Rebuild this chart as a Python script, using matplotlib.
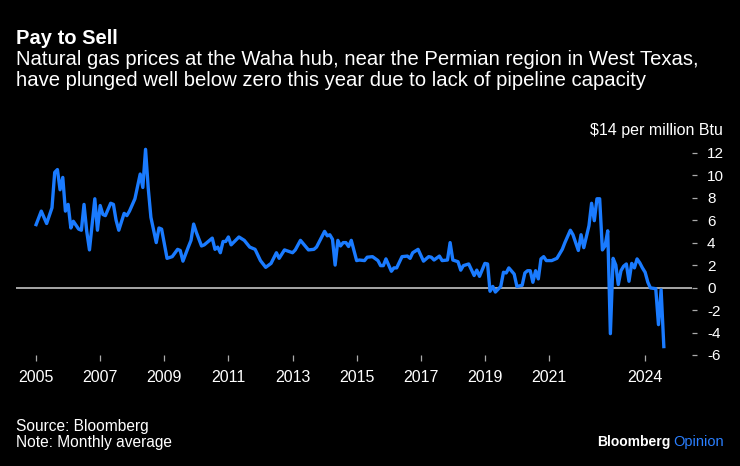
import numpy as np
import pandas as pd
import matplotlib
matplotlib.use('Agg')
import matplotlib.pyplot as plt
import matplotlib.transforms as mtransforms

plt.rcParams['font.family'] = ['Liberation Sans', 'DejaVu Sans']

# Waha hub monthly average price, $/million Btu
months = ['2005-01', '2005-03', '2005-05', '2005-07', '2005-08', '2005-09', '2005-10', '2005-11', '2005-12',
          '2006-01', '2006-02', '2006-03', '2006-05', '2006-06', '2006-07', '2006-08', '2006-09', '2006-11', '2006-12',
          '2007-01', '2007-02', '2007-03', '2007-05', '2007-06', '2007-07', '2007-08', '2007-10', '2007-11', '2007-12',
          '2008-02', '2008-04', '2008-05', '2008-06', '2008-07', '2008-08', '2008-10', '2008-11', '2008-12',
          '2009-02', '2009-04', '2009-06', '2009-07', '2009-08', '2009-10', '2009-11', '2009-12',
          '2010-01', '2010-03', '2010-04', '2010-07', '2010-08', '2010-09', '2010-10', '2010-11', '2010-12',
          '2011-01', '2011-02', '2011-05', '2011-07', '2011-09', '2011-11',
          '2012-01', '2012-03', '2012-05', '2012-07', '2012-08', '2012-10',
          '2013-01', '2013-02', '2013-04', '2013-07', '2013-09', '2013-10',
          '2014-01', '2014-02', '2014-03', '2014-04', '2014-05', '2014-06', '2014-07', '2014-08', '2014-09',
          '2014-10', '2014-11',
          '2015-01', '2015-02', '2015-04', '2015-05', '2015-07', '2015-09', '2015-10', '2015-11', '2015-12',
          '2016-02', '2016-03', '2016-04', '2016-06', '2016-08', '2016-09', '2016-10', '2016-12',
          '2017-02', '2017-04', '2017-05', '2017-06', '2017-08', '2017-09', '2017-11', '2017-12',
          '2018-01', '2018-03', '2018-04', '2018-05', '2018-07', '2018-09', '2018-10', '2018-11',
          '2019-01', '2019-02', '2019-03', '2019-04', '2019-05', '2019-07', '2019-08', '2019-09', '2019-10', '2019-12',
          '2020-01', '2020-03', '2020-04', '2020-05', '2020-06', '2020-07', '2020-08', '2020-09', '2020-10',
          '2020-11', '2020-12',
          '2021-02', '2021-04', '2021-06', '2021-07', '2021-09', '2021-10', '2021-12',
          '2022-01', '2022-02', '2022-04', '2022-05', '2022-06', '2022-07', '2022-08', '2022-09', '2022-10',
          '2022-11', '2022-12',
          '2023-01', '2023-02', '2023-03', '2023-04', '2023-05', '2023-06', '2023-07', '2023-08', '2023-09',
          '2023-10', '2023-11', '2023-12',
          '2024-01', '2024-02', '2024-03', '2024-05', '2024-06', '2024-07', '2024-08']
prices = [5.6, 6.8, 5.7, 7.1, 10.25, 10.5, 8.7, 9.8, 6.8,
          7.4, 5.3, 5.9, 5.2, 5.1, 7.4, 5.0, 3.35, 7.9, 5.1,
          7.3, 6.5, 6.4, 7.5, 7.4, 6.0, 5.1, 6.6, 6.4, 6.8,
          7.9, 10.1, 8.9, 12.3, 8.9, 6.25, 4.0, 5.3, 5.2,
          2.6, 2.75, 3.4, 3.3, 2.35, 3.6, 4.2, 5.65,
          4.9, 3.7, 3.8, 4.4, 3.4, 3.6, 3.1, 4.1, 4.1,
          4.5, 3.8, 4.5, 4.2, 3.6, 3.4,
          2.4, 1.8, 2.15, 3.1, 2.6, 3.35,
          3.1, 3.35, 4.2, 3.35, 3.4, 3.6,
          5.0, 4.6, 4.7, 4.3, 2.0, 4.2, 3.7, 4.0, 4.0,
          3.65, 4.2,
          2.4, 2.45, 2.4, 2.7, 2.75, 2.4, 1.95, 1.95, 2.55,
          1.45, 1.75, 1.75, 2.75, 2.8, 2.6, 3.1, 3.4,
          2.35, 2.75, 2.7, 2.45, 2.8, 2.4, 2.45, 4.0,
          2.45, 2.3, 1.55, 1.95, 2.1, 1.07, 1.55, 1.0,
          2.15, 2.1, -0.33, 0.1, -0.4, 0.1, 1.36, 1.3, 1.75, 1.2,
          0.1, 0.2, 1.3, 1.5, 1.5, 0.47, 1.5, 0.77, 2.55,
          2.75, 2.4,
          2.4, 2.6, 3.4, 4.0, 5.1, 4.7, 3.3,
          4.7, 3.55, 5.5, 7.5, 5.95, 7.9, 7.9, 3.35, 3.7,
          5.05, -4.1,
          2.6, 2.0, 0.27, 1.5, 1.9, 2.1, 0.56, 2.15, 1.75,
          2.55, 2.2, 1.75,
          1.36, 0.47, -0.03, -0.1, -3.3, -0.2, -5.25]

year_ticks = [2005, 2007, 2009, 2011, 2013, 2015, 2017, 2019, 2021, 2024]
y_ticks = [-6, -4, -2, 0, 2, 4, 6, 8, 10, 12]

W, H = 740, 466
fig = plt.figure(figsize=(W / 100, H / 100), dpi=100, facecolor='black')
ax = fig.add_axes([16 / W, 1 - 355 / H, (692 - 16) / W, (355 - 130.2) / H])
ax.set_facecolor('black')

dates = pd.to_datetime(months)
ax.axhline(0, color='#b4b4b4', lw=1.3, zorder=1)
ax.plot(dates, prices, color='#1a7bff', lw=2.4, solid_joinstyle='round', zorder=2)

ax.set_xlim(pd.Timestamp('2004-05-17'), pd.Timestamp('2025-06-18'))
ax.set_ylim(-6, 14)

ax.set_xticks(pd.to_datetime([f'{y}-01-01' for y in year_ticks]))
ax.set_xticklabels([str(y) for y in year_ticks])
ax.yaxis.tick_right()
ax.set_yticks(y_ticks)
ax.set_yticklabels([str(v) for v in y_ticks])

for s in ax.spines.values():
    s.set_visible(False)
ax.tick_params(axis='x', direction='out', length=4.3, width=0.9, color='#aaaaaa',
               labelcolor='white', labelsize=11.5, pad=6.5)
ax.tick_params(axis='y', direction='out', length=3.6, width=0.9, color='#aaaaaa',
               labelcolor='white', labelsize=11, pad=7.2)

# unit label sits at the 14 level, right aligned with the tick labels
trans = mtransforms.blended_transform_factory(fig.transFigure, ax.transData)
ax.text(723 / W, 14, '$14 per million Btu', transform=trans, ha='right', va='center',
        color='white', fontsize=11.5)

fig.text(16 / W, 1 - 44 / H, 'Pay to Sell', color='white', fontsize=14.5, fontweight='bold', va='baseline')
fig.text(16 / W, 1 - 65 / H, 'Natural gas prices at the Waha hub, near the Permian region in West Texas,',
         color='white', fontsize=14.6, va='baseline')
fig.text(16 / W, 1 - 86 / H, 'have plunged well below zero this year due to lack of pipeline capacity',
         color='white', fontsize=14.6, va='baseline')

fig.text(16 / W, 1 - 430.7 / H, 'Source: Bloomberg', color='white', fontsize=11.2, va='baseline')
fig.text(16 / W, 1 - 446.7 / H, 'Note: Monthly average', color='white', fontsize=11.2, va='baseline')

fig.text(724 / W, 1 - 446 / H, 'Opinion', color='#2a7fff', fontsize=10.5, ha='right', va='baseline')
fig.text(671 / W, 1 - 446 / H, 'Bloomberg', color='white', fontsize=10, fontweight='bold',
         ha='right', va='baseline')

fig.savefig('out.png', dpi=100, facecolor='black')
